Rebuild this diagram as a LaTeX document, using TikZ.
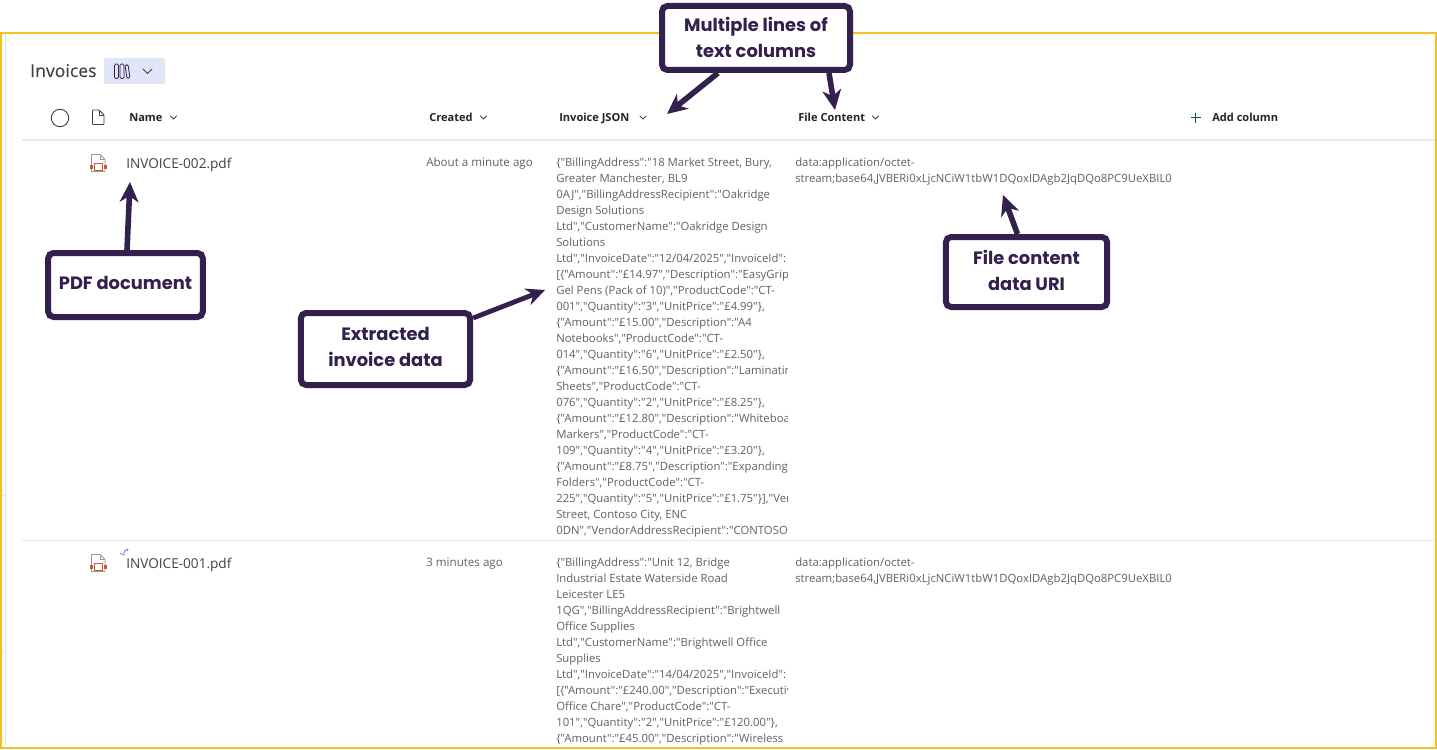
\documentclass[tikz,border=0pt]{standalone}
\usepackage{fontspec}
\usetikzlibrary{arrows.meta,calc}
\setmainfont{Open Sans}[Ligatures=TeXOff]
\newfontfamily\callfont{Poppins}[Ligatures=TeXOff]
\newfontfamily\titlefont{Open Sans}[FakeBold=0.25]
\definecolor{callink}{HTML}{33204D}
\definecolor{frameyellow}{HTML}{F2C023}
\definecolor{rulegrey}{HTML}{EAEAEA}
\definecolor{headink}{HTML}{242424}
\definecolor{bodyink}{HTML}{616161}
\definecolor{nameink}{HTML}{424242}
\definecolor{pillblue}{HTML}{E0E5F8}
\definecolor{pdfred}{HTML}{D8512F}
\tikzset{
  x=0.75pt,y=-0.75pt,
  callout/.style={draw=callink,line width=4.5pt,rounded corners=4pt,fill=white,align=center,text=callink,inner sep=0pt,
    font=\callfont\bfseries\fontsize{13.4}{19.5}\selectfont},
  callarrow/.style={draw=callink,line width=4.2pt,-{Stealth[length=15pt,width=14pt,inset=4.5pt]}},
  headlabel/.style={anchor=base west,inner sep=0pt,text=headink,font=\fontsize{8.3}{10}\selectfont\bfseries},
  namelabel/.style={anchor=base west,inner sep=0pt,text=nameink,font=\fontsize{10.2}{12}\selectfont},
  bodylabel/.style={anchor=base west,inner sep=0pt,text=bodyink,font=\fontsize{8.7}{12}\selectfont},
  cell/.style={anchor=north west,inner sep=0pt,align=left,text=bodyink,font=\fontsize{8.5}{12}\selectfont},
  chevron/.style={draw=#1,line width=0.6pt,line cap=round,line join=round},
  chevron/.default=nameink,
  pdficon/.pic={
    \draw[line width=0.6pt,draw=gray!80] (-6.5,8.5) -- (-6.5,-8.5) -- (2,-8.5) -- (7,-3.5) -- (7,8.5) -- cycle;
    \draw[line width=0.5pt,draw=gray!80] (2,-8.5) -- (2,-3.5) -- (7,-3.5);
    \fill[pdfred] (-8,2) rectangle (-5,6);
    \fill[pdfred] (5.5,2) rectangle (8.5,6);
    \draw[pdfred,line width=0.6pt,fill=white] (-4,0.8) rectangle (4.7,7);
  },
}
\begin{document}
\begin{tikzpicture}
\useasboundingbox (0,0) rectangle (1437,749);
\fill[white] (0,0) rectangle (1437,749);
% frame
\draw[frameyellow,line width=1.5pt] (1,33) rectangle (1436,747.7);
\draw[rulegrey,line width=0.75pt] (5.5,34) -- (5.5,746);
\draw[rulegrey,line width=0.75pt] (2,495) -- (5,495) (2,652.5) -- (5,652.5);
% header
\node[anchor=base west,inner sep=0pt,text=nameink,font=\titlefont\fontsize{13.2}{15}\selectfont] (title) at (30,77) {Invoices};
\fill[pillblue,rounded corners=1.5pt] (104,58) rectangle (165,84);
\begin{scope}[draw=callink,line width=0.6pt]
\draw[rounded corners=1pt] (114.5,64) rectangle (118.5,78.5);
\draw[rounded corners=1pt] (120,64) rectangle (124,78.5);
\draw[rounded corners=1pt] (125,65) -- (128,64.5) -- (130,78) -- (127,78.5) -- cycle;
\end{scope}
\draw[chevron] (143,69) -- (147.5,73.5) -- (152,69);
% column headers
\draw[nameink,line width=0.7pt] (60,118) circle (8.7);
\draw[nameink,line width=0.6pt,rounded corners=0.5pt] (92.5,124.5) -- (92.5,110) -- (99,110) -- (104,115) -- (104,124.5) -- cycle;
\draw[nameink,line width=0.6pt] (99,110) -- (99,115) -- (104,115);
\node[headlabel] (hname) at (129,121) {Name};
\draw[chevron] (170.5,116) -- (173.5,119) -- (176.5,116);
\node[headlabel] (hcreated) at (429,121) {Created};
\draw[chevron] (480.5,116) -- (483.5,119) -- (486.5,116);
\node[headlabel] (hjson) at (559,121) {Invoice JSON};
\draw[chevron] (640,116) -- (643,119) -- (646,116);
\node[headlabel] (hfile) at (798,121) {File Content};
\draw[chevron] (872.5,116) -- (875.5,119) -- (878.5,116);
\draw[teal!70!black,line width=0.6pt] (1190.5,117.5) -- (1200.5,117.5) (1195.5,112.5) -- (1195.5,122.5);
\node[headlabel] (hadd) at (1212,121) {Add column};
% rules
\draw[rulegrey,line width=1.4pt] (22,140) -- (1435,140);
\draw[rulegrey,line width=0.75pt] (22,540.5) -- (1435,540.5);
% row 1
\pic at (98,163) {pdficon};
\node[namelabel] (n1) at (126,168) {INVOICE-002.pdf};
\node[bodylabel] (c1) at (426,166) {About a minute ago};
\begin{scope}
\clip (550,145) rectangle (787,538);
\node[cell] (j1) at (556,158) {\{"BillingAddress":"18 Market Street, Bury,\\
Greater Manchester, BL9\\
0AJ","BillingAddressRecipient":"Oakridge\\
Design Solutions\\
Ltd","CustomerName":"Oakridge Design\\
Solutions\\
Ltd","InvoiceDate":"12/04/2025","InvoiceId":\\
{[}\{"Amount":"£14.97","Description":"EasyGrip\\
Gel Pens (Pack of 10)","ProductCode":"CT-\\
001","Quantity":"3","UnitPrice":"£4.99"\},\\
\{"Amount":"£15.00","Description":"A4\\
Notebooks","ProductCode":"CT-\\
014","Quantity":"6","UnitPrice":"£2.50"\},\\
\{"Amount":"£16.50","Description":"Laminating\\
Sheets","ProductCode":"CT-\\
076","Quantity":"2","UnitPrice":"£8.25"\},\\
\{"Amount":"£12.80","Description":"Whiteboard\\
Markers","ProductCode":"CT-\\
109","Quantity":"4","UnitPrice":"£3.20"\},\\
\{"Amount":"£8.75","Description":"Expanding\\
Folders","ProductCode":"CT-\\
225","Quantity":"5","UnitPrice":"£1.75"\}],"Vendor\\
Street, Contoso City, ENC\\
0DN","VendorAddressRecipient":"CONTOSO};
\end{scope}
\begin{scope}
\clip (790,145) rectangle (1173,200);
\node[cell] (f1) at (795,158) {data:application/octet-\\
stream;base64,JVBERi0xLjcNCiW1tbW1DQoxIDAgb2JqDQo8PC9UeXBIL0};
\end{scope}
% row 2
\pic at (98,563) {pdficon};
\draw[blue!60!white,line width=0.6pt] (126.5,549) -- (123.5,553) (120,553.5) -- (125,555) (128,548.5) -- (127.5,551);
\node[namelabel] (n2) at (126,568) {INVOICE-001.pdf};
\node[bodylabel] (c2) at (426,566) {3 minutes ago};
\begin{scope}
\clip (550,545) rectangle (787,746);
\node[cell] (j2) at (556,558) {\{"BillingAddress":"Unit 12, Bridge\\
Industrial Estate Waterside Road\\
Leicester LE5\\
1QG","BillingAddressRecipient":"Brightwell\\
Office Supplies\\
Ltd","CustomerName":"Brightwell Office\\
Supplies\\
Ltd","InvoiceDate":"14/04/2025","InvoiceId":\\
{[}\{"Amount":"£240.00","Description":"Executive\\
Office Chare","ProductCode":"CT-\\
101","Quantity":"2","UnitPrice":"£120.00"\},\\
\{"Amount":"£45.00","Description":"Wireless};
\end{scope}
\begin{scope}
\clip (790,545) rectangle (1173,600);
\node[cell] (f2) at (795,558) {data:application/octet-\\
stream;base64,JVBERi0xLjcNCiW1tbW1DQoxIDAgb2JqDQo8PC9UeXBIL0};
\end{scope}
% callouts
\coordinate (tipmulti) at (667,114);
\coordinate (tipfile) at (835,110);
\coordinate (tippdf) at (130,182);
\coordinate (tipjson) at (545,290);
\coordinate (tipuri) at (1003,195);
\node[callout,minimum width=141pt,minimum height=48pt,text depth=1.5pt] (multi) at (756,38) {Multiple lines of\\text columns};
\node[callout,minimum width=116pt,minimum height=48pt,text depth=2.8pt] (pdfdoc) at (125.5,285) {PDF document};
\node[callout,minimum width=127pt,minimum height=54pt,text depth=3pt] (extract) at (385.5,349) {Extracted\\invoice data};
\node[callout,minimum width=121pt,minimum height=52.5pt,text depth=3pt] (uri) at (1026.5,272) {File content\\data URI};
\draw[callarrow] ($(multi.south)+(-38,0)$) -- (tipmulti);
\draw[callarrow] ($(multi.south)+(73,0)$) -- (tipfile);
\draw[callarrow] ($(pdfdoc.north)+(1.5,0)$) -- (tippdf);
\draw[callarrow,line width=3.6pt,-{Stealth[length=14pt,width=13pt,inset=4.5pt]}] ($(extract.north east)+(0,8)$) -- (tipjson);
\draw[callarrow] ($(uri.north)+(-9,0)$) -- (tipuri);
\end{tikzpicture}
\end{document}
